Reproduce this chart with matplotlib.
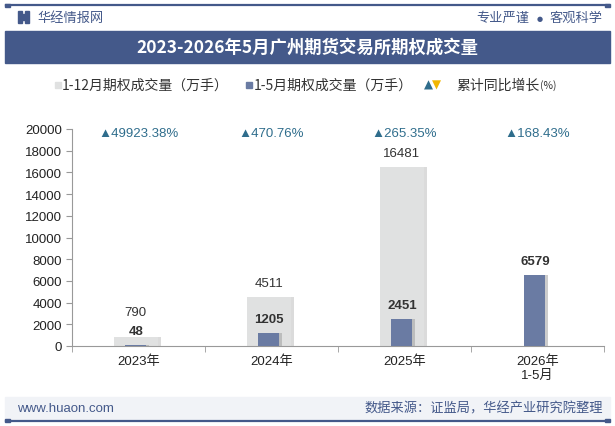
import matplotlib
matplotlib.use("Agg")
import matplotlib.pyplot as plt
from matplotlib.patches import Rectangle
import numpy as np

# 数据
categories = ['2023年', '2024年', '2025年', '2026年\n1-5月']
full_year = [790, 4511, 16481, None]          # 1-12月期权成交量(万手)
jan_may = [48, 1205, 2451, 6579]              # 1-5月期权成交量(万手)
growth = ['49923.38%', '470.76%', '265.35%', '168.43%']
yticks = [0, 2000, 4000, 6000, 8000, 10000, 12000, 14000, 16000, 18000, 20000]

FONTS = ['Liberation Sans', 'Noto Sans CJK SC', 'DejaVu Sans']
CJK = ['Noto Sans CJK SC', 'DejaVu Sans']
plt.rcParams['font.family'] = FONTS

NAVY = '#44598a'
GREY_BAR = '#e0e1e1'
BLUE_BAR = '#6a7ba3'
TRI = '#2f6d8c'
TXT = '#333333'

W, H = 615, 427
fig = plt.figure(figsize=(W / 100, H / 100), dpi=100)
fig.patch.set_facecolor('white')


def fx(px):
    return px / W


def fy(py):
    return 1 - py / H


# 顶部线条与页眉
fig.add_artist(plt.Line2D([fx(6), fx(609)], [fy(5.5), fy(5.5)], color=NAVY, lw=1.6))
fig.add_artist(Rectangle((fx(5), fy(7.5)), fx(5), 3 / H, color=NAVY))
fig.add_artist(Rectangle((fx(605), fy(7.5)), fx(5), 3 / H, color=NAVY))
fig.add_artist(Rectangle((fx(18), fy(24)), fx(3.5), 12 / H, color=NAVY))
fig.add_artist(Rectangle((fx(25), fy(24)), fx(3.5), 12 / H, color=NAVY))
fig.add_artist(Rectangle((fx(20), fy(21)), fx(7), 6 / H, color=NAVY))
fig.text(fx(37), fy(18), '华经情报网', family=CJK, fontsize=9.5, color=NAVY, va='center', ha='left')
fig.text(fx(529), fy(18), '专业严谨', family=CJK, fontsize=9.5, color=NAVY, va='center', ha='right')
fig.text(fx(540), fy(18.5), '●', family=['DejaVu Sans'], fontsize=5, color=NAVY, va='center', ha='center')
fig.text(fx(603), fy(18), '客观科学', family=CJK, fontsize=9.5, color=NAVY, va='center', ha='right')

# 标题栏
fig.add_artist(Rectangle((fx(5), fy(64)), fx(605), 32 / H, color=NAVY))
fig.text(fx(307), fy(48), '2023-2026年5月广州期货交易所期权成交量', family=CJK,
         fontsize=12.5, fontweight='bold', color='white', va='center', ha='center')

# 图例
fig.add_artist(Rectangle((fx(55), fy(88.5)), fx(5.5), 5.5 / H, color=GREY_BAR))
fig.text(fx(62), fy(85.5), '1-12月期权成交量（万手）', family=CJK, fontsize=10, color=TXT, va='center')
fig.add_artist(Rectangle((fx(246), fy(88.5)), fx(5.5), 5.5 / H, color=BLUE_BAR))
fig.text(fx(254), fy(85.5), '1-5月期权成交量（万手）', family=CJK, fontsize=10, color=TXT, va='center')
fig.text(fx(428), fy(85.5), '▲', family=['DejaVu Sans'], fontsize=8.5, color=TRI, va='center', ha='center')
fig.text(fx(436), fy(85.5), '▼', family=['DejaVu Sans'], fontsize=8.5, color='#f2b600', va='center', ha='center')
fig.text(fx(456), fy(85.5), '累计同比增长', family=CJK, fontsize=10, color=TXT, va='center')
fig.text(fx(540), fy(86), '(%)', family=CJK, fontsize=7.5, color=TXT, va='center')

# 主图
ax = fig.add_axes([fx(72), fy(347), fx(604 - 72), (347 - 130) / H])
ax.set_facecolor('none')
x = np.arange(len(categories))
shift = 3 / 133.0

full_vals = [v if v is not None else 0 for v in full_year]
ax.bar(x - 0.02 + shift, full_vals, width=0.33, color='#b8b8b8', alpha=0.5, zorder=1)
ax.bar(x - 0.02, full_vals, width=0.33, color=GREY_BAR, zorder=2)
ax.bar(x - 0.02 + shift, jan_may, width=0.16, color='#9a9a9a', alpha=0.5, zorder=3)
ax.bar(x - 0.02, jan_may, width=0.16, color=BLUE_BAR, zorder=4)

for i, v in enumerate(full_year):
    if v is None:
        continue
    off = 2300 if i == 0 else 1300
    ax.text(x[i] - 0.02, v + off, f'{v}', ha='center', va='center', fontsize=9.5, color=TXT)
for i, v in enumerate(jan_may):
    ax.text(x[i] - 0.02, v + 1300, f'{v}', ha='center', va='center', fontsize=9.5,
            fontweight='bold', color=TXT)
for i, g in enumerate(growth):
    ax.text(x[i], 19650, '▲' + g, ha='center', va='center', fontsize=9.5, color=TRI,
            family=['Liberation Sans', 'DejaVu Sans'])

ax.set_xlim(-0.5, 3.5)
ax.set_ylim(0, 20000)
ax.set_yticks(yticks)
ax.set_yticklabels([str(t) for t in yticks], fontsize=9.5, color='#222222')
ax.set_xticks(x)
ax.set_xticklabels(categories, fontsize=9.5, color='#222222')
ax.set_xticks(np.arange(-0.5, 4.0, 1.0), minor=True)
ax.tick_params(axis='x', which='major', length=0, pad=6)
ax.tick_params(axis='x', which='minor', length=4, color='#999999', direction='out')
ax.tick_params(axis='y', length=4, color='#999999', pad=3)
for s in ['top', 'right']:
    ax.spines[s].set_visible(False)
ax.spines['left'].set_color('#999999')
ax.spines['bottom'].set_color('#999999')

# 页脚
fig.add_artist(Rectangle((fx(5), fy(420)), fx(605), 22 / H, color='#f1f3f7'))
fig.text(fx(17), fy(409), 'www.huaon.com', fontsize=9.5, color=NAVY, va='center', ha='left')
fig.text(fx(603), fy(409), '数据来源：证监局，华经产业研究院整理', family=CJK, fontsize=9.5,
         color=NAVY, va='center', ha='right')
fig.add_artist(plt.Line2D([fx(6), fx(609)], [fy(421.5), fy(421.5)], color=NAVY, lw=1.6))
fig.add_artist(Rectangle((fx(5), fy(423)), fx(5), 3 / H, color=NAVY))
fig.add_artist(Rectangle((fx(605), fy(423)), fx(5), 3 / H, color=NAVY))

fig.savefig('out.png', dpi=100)
